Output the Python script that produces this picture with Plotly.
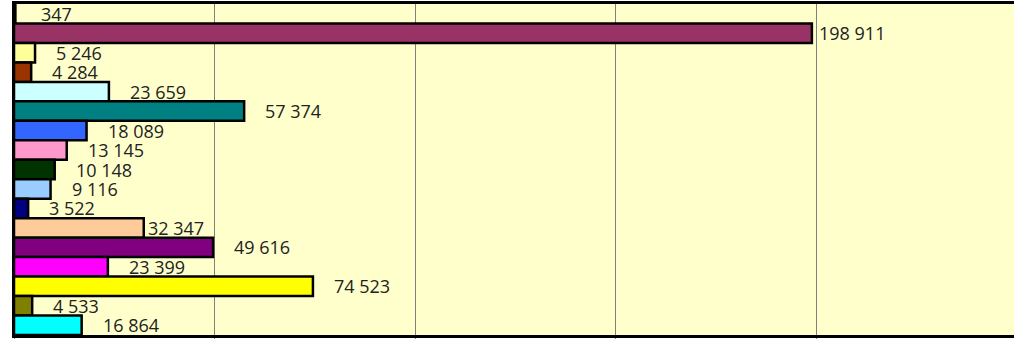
import plotly.graph_objects as go

categories = [f"Item {i}" for i in range(1, 18)]
values = [347, 198911, 5246, 4284, 23659, 57374, 18089, 13145, 10148,
          9116, 3522, 32347, 49616, 23399, 74523, 4533, 16864]
colors = ["#9999FF", "#993366", "#FFFF99", "#993300", "#CCFFFF", "#008080",
          "#3366FF", "#FF99CC", "#003300", "#99CCFF", "#000080", "#FFCC99",
          "#800080", "#FF00FF", "#FFFF00", "#808000", "#00FFFF"]
label_texts = [f"{v:,}".replace(",", " ") for v in values]
# pixel nudges for a few labels (style only)
label_nudge = {0: 5, 1: -14, 11: -17}

fig = go.Figure(go.Bar(
    x=values, y=categories, orientation="h",
    marker=dict(color=colors, line=dict(color="black", width=2.5)),
    hoverinfo="skip",
))

for i, (c, v, t) in enumerate(zip(categories, values, label_texts)):
    fig.add_annotation(
        x=v, y=c, text=t, showarrow=False, xanchor="left", yanchor="middle",
        xshift=19 + label_nudge.get(i, 0), yshift=0,
        font=dict(family="Open Sans", size=18, color="#222222"),
    )

fig.update_layout(
    width=1014, height=339,
    margin=dict(l=14, r=0, t=4, b=4),
    paper_bgcolor="white", plot_bgcolor="#FFFFCC",
    bargap=0.0, showlegend=False,
    xaxis=dict(range=[0, 249300], dtick=50000, showgrid=True,
               gridcolor="#808080", gridwidth=1, zeroline=False,
               showline=True, linecolor="black", linewidth=3, mirror=True,
               ticks="outside", ticklen=5, tickcolor="#808080",
               showticklabels=False),
    yaxis=dict(range=[len(categories) - 0.5, -0.5], autorange=False,
               showgrid=False, zeroline=False,
               showline=True, linecolor="black", linewidth=2,
               showticklabels=False, ticks=""),
)

fig.write_html(
    "out.html",
    config={"displayModeBar": False, "staticPlot": True},
    post_script="document.body.style.margin='0';document.body.style.overflow='hidden';",
)
